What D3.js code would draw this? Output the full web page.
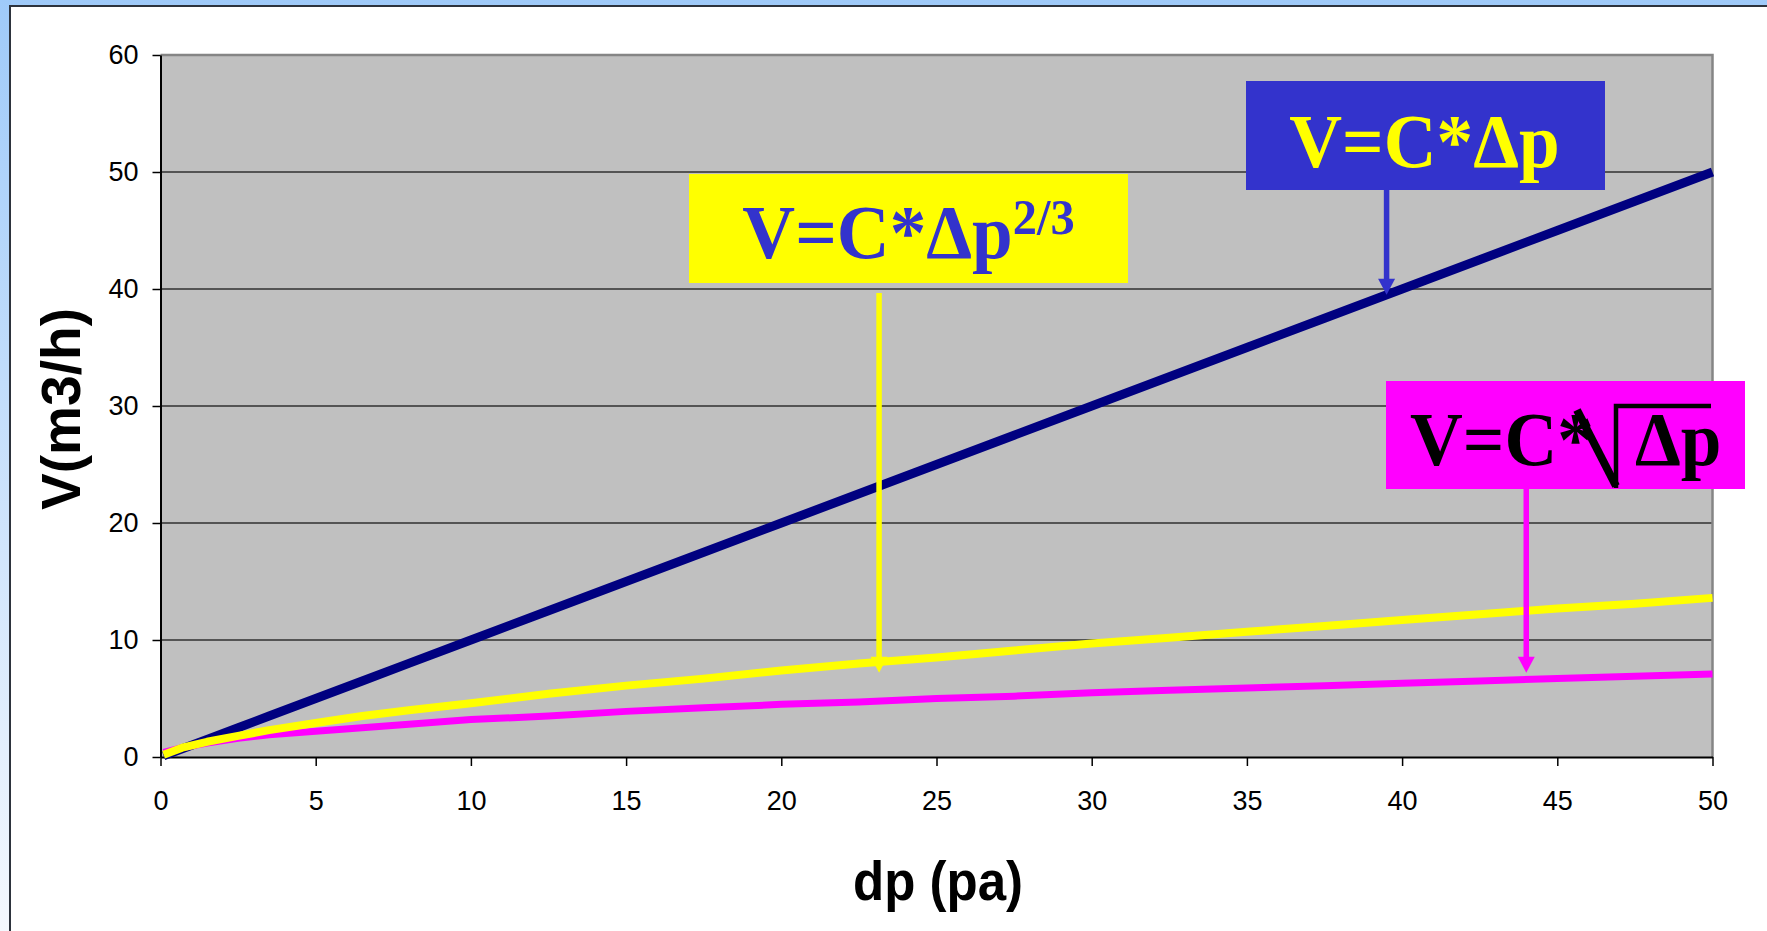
<!DOCTYPE html>
<html>
<head>
<meta charset="utf-8">
<script src="https://cdnjs.cloudflare.com/ajax/libs/d3/7.8.5/d3.min.js"></script>
<style>
body { margin: 0; background: #fff; }
svg { display: block; }
</style>
</head>
<body>
<svg id="chart" width="1767" height="931"></svg>
<script>
//variable definition
var WIDTH = 1767;
var HEIGHT = 931;
var PLOT = {left: 160.5, top: 55, right: 1712.5, bottom: 757};

// pressure difference (pa) where values were read
var DP = [0.1, 0.7, 1.5, 2.5, 3.5, 5, 6.5, 8, 10, 12.5, 15, 17.5, 20, 22.5, 25, 27.5, 30, 32.5, 35, 37.5, 40, 42.5, 45, 47.5, 50];
// flow V (m3/h) for each curve
var V_LINEAR = [0.1, 0.7, 1.5, 2.5, 3.5, 5, 6.5, 8, 10, 12.5, 15, 17.5, 20, 22.5, 25, 27.5, 30, 32.5, 35, 37.5, 40, 42.5, 45, 47.5, 50];
var V_POW = [0.2, 0.8, 1.3, 1.8, 2.3, 2.9, 3.5, 4.0, 4.6, 5.4, 6.1, 6.7, 7.4, 8.0, 8.5, 9.1, 9.7, 10.2, 10.7, 11.2, 11.7, 12.2, 12.7, 13.1, 13.6];
var V_SQRT = [0.4, 0.8, 1.2, 1.6, 1.9, 2.2, 2.5, 2.8, 3.2, 3.5, 3.9, 4.2, 4.5, 4.7, 5.0, 5.2, 5.5, 5.7, 5.9, 6.1, 6.3, 6.5, 6.7, 6.9, 7.1];
var X_TICKS = [0, 5, 10, 15, 20, 25, 30, 35, 40, 45, 50];
var Y_TICKS = [0, 10, 20, 30, 40, 50, 60];

// where each formula arrow points (dp, V)
var ARROW_DP = [39.5, 23.15, 44];
var ARROW_V = [39.5, 7.2, 7.2];

var svg = d3.select("#chart");

var xScale = d3.scaleLinear()
    .domain([0, 50])
    .range([PLOT.left, PLOT.right]);

var yScale = d3.scaleLinear()
    .domain([0, 60])
    .range([PLOT.bottom, PLOT.top]);

function drawFrame() {
    let defs = svg.append("defs");
    let grad = defs.append("linearGradient")
        .attr("id", "bg")
        .attr("x1", 0).attr("y1", 0).attr("x2", 0).attr("y2", 1);
    grad.append("stop").attr("offset", "0%").attr("stop-color", "#9fcaf9");
    grad.append("stop").attr("offset", "100%").attr("stop-color", "#f4f8fe");

    svg.append("rect")
        .attr("width", WIDTH)
        .attr("height", HEIGHT)
        .attr("fill", "url(#bg)");

    svg.append("rect")
        .attr("x", 10)
        .attr("y", 6)
        .attr("width", WIDTH)
        .attr("height", HEIGHT)
        .attr("fill", "#fff")
        .attr("stroke", "#2d333d")
        .attr("stroke-width", 2);
}

function drawPlot() {
    svg.append("rect")
        .attr("x", PLOT.left)
        .attr("y", PLOT.top)
        .attr("width", PLOT.right - PLOT.left)
        .attr("height", PLOT.bottom - PLOT.top)
        .attr("fill", "#c0c0c0");

    svg.append("g")
        .selectAll("line")
        .data(Y_TICKS.filter(d => d > 0 && d < 60))
        .join("line")
        .attr("x1", PLOT.left)
        .attr("x2", PLOT.right)
        .attr("y1", d => yScale(d))
        .attr("y2", d => yScale(d))
        .attr("stroke", "#303030")
        .attr("stroke-width", 1.3);

    // grey border top and right
    svg.append("path")
        .attr("d", `M${PLOT.left},${PLOT.top}H${PLOT.right}V${PLOT.bottom}`)
        .attr("fill", "none")
        .attr("stroke", "#858585")
        .attr("stroke-width", 2.5);

    let yAxis = d3.axisLeft(yScale)
        .tickValues(Y_TICKS)
        .tickSize(8)
        .tickSizeOuter(0)
        .tickPadding(14);

    let xAxis = d3.axisBottom(xScale)
        .tickValues(X_TICKS)
        .tickSize(9)
        .tickSizeOuter(0)
        .tickPadding(25);

    let gy = svg.append("g")
        .attr("transform", `translate(${PLOT.left},0)`)
        .call(yAxis);
    let gx = svg.append("g")
        .attr("transform", `translate(0,${PLOT.bottom})`)
        .call(xAxis);

    [gx, gy].forEach(g => {
        g.select(".domain").attr("stroke", "#000").attr("stroke-width", 2);
        g.selectAll(".tick line").attr("stroke", "#000").attr("stroke-width", 1.5);
        g.selectAll(".tick text")
            .attr("fill", "#000")
            .style("font-family", "'Liberation Sans', Arial, sans-serif")
            .style("font-size", "27px");
    });

    svg.append("text")
        .text("V(m3/h)")
        .attr("transform", "translate(80,409) rotate(-90)")
        .attr("text-anchor", "middle")
        .attr("textLength", 202)
        .attr("lengthAdjust", "spacingAndGlyphs")
        .style("font-family", "'Liberation Sans', Arial, sans-serif")
        .style("font-weight", "bold")
        .style("font-size", "56px");

    svg.append("text")
        .text("dp (pa)")
        .attr("x", 938)
        .attr("y", 900)
        .attr("text-anchor", "middle")
        .attr("textLength", 170)
        .attr("lengthAdjust", "spacingAndGlyphs")
        .style("font-family", "'Liberation Sans', Arial, sans-serif")
        .style("font-weight", "bold")
        .style("font-size", "56px");
}

function drawLines() {
    const line = d3.line()
        .x((d, i) => xScale(DP[i]))
        .y(d => yScale(d));

    let series = [
        {values: V_LINEAR, color: "#000080", width: 9},
        {values: V_SQRT, color: "#ff00ff", width: 7},
        {values: V_POW, color: "#ffff00", width: 8}
    ];

    svg.append("g")
        .selectAll("path")
        .data(series)
        .join("path")
        .attr("d", d => line(d.values))
        .attr("fill", "none")
        .attr("stroke", d => d.color)
        .attr("stroke-width", d => d.width)
        .attr("stroke-linejoin", "round");
}

function drawArrow(i, fromY, color) {
    let ax = xScale(ARROW_DP[i]);
    let tip = yScale(ARROW_V[i]);
    svg.append("line")
        .attr("x1", ax).attr("x2", ax)
        .attr("y1", fromY).attr("y2", tip - 12)
        .attr("stroke", color)
        .attr("stroke-width", 5.5);
    svg.append("path")
        .attr("d", `M${ax - 8.5},${tip - 16}L${ax + 8.5},${tip - 16}L${ax},${tip}Z`)
        .attr("fill", color);
}

function formulaText(sel) {
    return sel.style("font-family", "'Liberation Serif', 'Times New Roman', serif")
        .style("font-weight", "bold")
        .style("font-size", "77px");
}

function drawFormulas() {
    // V = C * dp
    svg.append("rect")
        .attr("x", 1246).attr("y", 81)
        .attr("width", 359).attr("height", 109)
        .attr("fill", "#3333cc");
    formulaText(svg.append("g")
        .attr("transform", "translate(1424.5,167) scale(0.95,1)")
        .append("text")
        .attr("text-anchor", "middle")
        .attr("fill", "#ffff00")
        .text("V=C*\u0394p"));
    drawArrow(0, 190, "#3333cc");

    // V = C * dp^(2/3)
    svg.append("rect")
        .attr("x", 689).attr("y", 174)
        .attr("width", 439).attr("height", 109)
        .attr("fill", "#ffff00");
    let t = formulaText(svg.append("g")
        .attr("transform", "translate(908.5,258) scale(0.95,1)")
        .append("text")
        .attr("text-anchor", "middle")
        .attr("fill", "#3333cc"));
    t.append("tspan").text("V=C*\u0394p");
    t.append("tspan")
        .attr("dy", -24)
        .style("font-size", "51px")
        .text("2/3");
    drawArrow(1, 293, "#ffff00");

    // V = C * sqrt(dp)
    svg.append("rect")
        .attr("x", 1386).attr("y", 381)
        .attr("width", 359).attr("height", 108)
        .attr("fill", "#ff00ff");
    formulaText(svg.append("g")
        .attr("transform", "translate(1410,465) scale(0.95,1)")
        .append("text")
        .attr("fill", "#000")
        .text("V=C*"));
    svg.append("path")
        .attr("d", "M1577,410L1616,486")
        .attr("stroke", "#000")
        .attr("stroke-width", 8);
    svg.append("path")
        .attr("d", "M1616,488L1616,406H1711")
        .attr("fill", "none")
        .attr("stroke", "#000")
        .attr("stroke-width", 4.5);
    formulaText(svg.append("g")
        .attr("transform", "translate(1635,465) scale(0.95,1)")
        .append("text")
        .attr("fill", "#000")
        .text("\u0394p"));
    drawArrow(2, 489, "#ff00ff");
}

drawFrame();
drawPlot();
drawLines();
drawFormulas();
</script>
</body>
</html>
